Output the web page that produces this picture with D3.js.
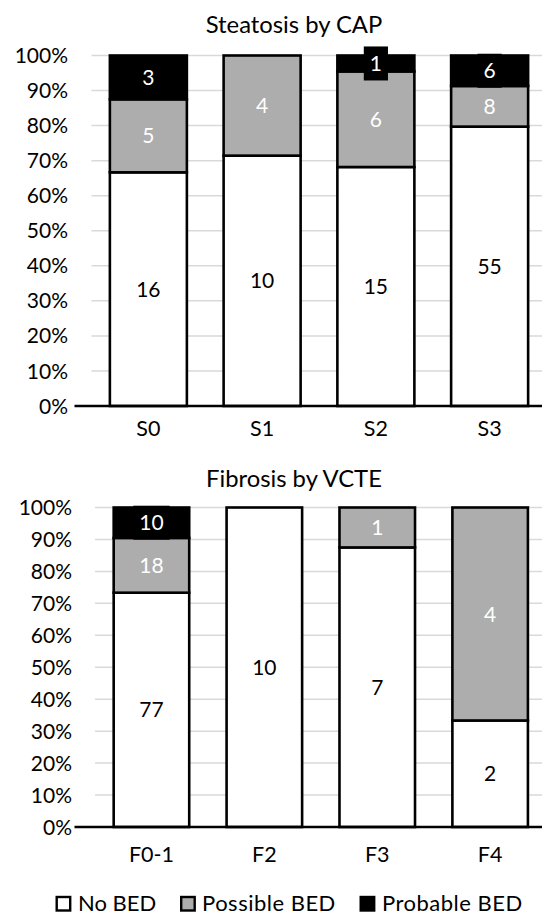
<!DOCTYPE html>
<html>
<head>
<meta charset="utf-8">
<script src="https://cdn.jsdelivr.net/npm/d3@7"></script>
<style>
  html, body { margin: 0; padding: 0; background: #fff; }
  svg { display: block; font-family: Lato, "Open Sans", sans-serif; }
</style>
</head>
<body>
<svg id="chart" width="542" height="915"></svg>
<script>
// Counts of patients per binge-eating category
const seriesNames = ["No BED", "Possible BED", "Probable BED"];

const steatosisCategories = ["S0", "S1", "S2", "S3"];
const steatosisNoBed = [16, 10, 15, 55];
const steatosisPossibleBed = [5, 4, 6, 8];
const steatosisProbableBed = [3, 0, 1, 6];

const fibrosisCategories = ["F0-1", "F2", "F3", "F4"];
const fibrosisNoBed = [77, 10, 7, 2];
const fibrosisPossibleBed = [18, 0, 1, 4];
const fibrosisProbableBed = [10, 0, 0, 0];

const percentTicks = [0, 10, 20, 30, 40, 50, 60, 70, 80, 90, 100];
const percentTickLabels = ["0%", "10%", "20%", "30%", "40%", "50%", "60%", "70%", "80%", "90%", "100%"];

const fills = ["#ffffff", "#adadad", "#000000"];
const labelColors = ["#000000", "#ffffff", "#ffffff"];

const svg = d3.select("#chart");

function drawPanel(opts) {
  const { title, categories, series, left, right, top, bottom, titleY, tickRight, catY, barFrac } = opts;

  const g = svg.append("g");

  // rows: one per category, with counts per series
  const rows = categories.map((c, i) => {
    const row = { category: c };
    seriesNames.forEach((s, k) => { row[s] = series[k][i]; });
    row.total = d3.sum(series, arr => arr[i]);
    return row;
  });

  const stack = d3.stack()
    .keys(seriesNames)
    .value((d, key) => d[key] / d.total * 100);
  const layers = stack(rows);

  const x = d3.scaleBand()
    .domain(categories)
    .range([left, right])
    .paddingInner(1 - barFrac)
    .paddingOuter((1 - barFrac) / 2);

  const y = d3.scaleLinear().domain([0, 100]).range([bottom, top]);

  // title
  g.append("text")
    .attr("x", 294)
    .attr("y", titleY)
    .attr("text-anchor", "middle")
    .attr("font-size", 23.8)
    .attr("fill", "#000")
    .text(title);

  // horizontal gridlines
  g.append("g")
    .selectAll("line")
    .data(percentTicks.filter(t => t > 0))
    .join("line")
    .attr("x1", left)
    .attr("x2", 542)
    .attr("y1", d => y(d))
    .attr("y2", d => y(d))
    .attr("stroke", "#d9d9d9")
    .attr("stroke-width", 1.5);

  // y tick labels
  g.append("g")
    .selectAll("text")
    .data(percentTicks)
    .join("text")
    .attr("x", tickRight)
    .attr("y", d => y(d))
    .attr("dy", "0.36em")
    .attr("text-anchor", "end")
    .attr("font-size", 21)
    .attr("fill", "#000")
    .text((d, i) => percentTickLabels[i]);

  // stacked bars
  layers.forEach((layer, k) => {
    g.append("g")
      .selectAll("rect")
      .data(layer.filter(d => d[1] - d[0] > 0))
      .join("rect")
      .attr("x", d => x(d.data.category))
      .attr("width", x.bandwidth())
      .attr("y", d => y(d[1]))
      .attr("height", d => y(d[0]) - y(d[1]))
      .attr("fill", fills[k])
      .attr("stroke", "#000")
      .attr("stroke-width", 2.6);
  });

  // baseline axis
  g.append("line")
    .attr("x1", 74.5)
    .attr("x2", 542)
    .attr("y1", y(0))
    .attr("y2", y(0))
    .attr("stroke", "#000")
    .attr("stroke-width", 2.6);

  // category labels
  g.append("g")
    .selectAll("text")
    .data(categories)
    .join("text")
    .attr("x", d => x(d) + x.bandwidth() / 2)
    .attr("y", catY)
    .attr("text-anchor", "middle")
    .attr("font-size", 21.5)
    .attr("fill", "#000")
    .text(d => d);

  // data labels (counts), centred in each segment
  layers.forEach((layer, k) => {
    const lg = g.append("g");
    layer.forEach(d => {
      const count = d.data[seriesNames[k]];
      if (!count) return;
      const cx = x(d.data.category) + x.bandwidth() / 2;
      const cy = y((d[0] + d[1]) / 2);
      const bg = lg.append("rect");
      const t = lg.append("text")
        .attr("x", cx)
        .attr("y", cy)
        .attr("dy", "0.36em")
        .attr("text-anchor", "middle")
        .attr("font-size", 21)
        .attr("fill", labelColors[k])
        .text(count);
      if (k === 2) {
        const bb = t.node().getBBox();
        bg.attr("x", cx - bb.width / 2 - 6)
          .attr("y", cy - 17)
          .attr("width", bb.width + 12)
          .attr("height", 34)
          .attr("fill", fills[k]);
      } else {
        bg.remove();
      }
    });
  });
}

drawPanel({
  title: "Steatosis by CAP",
  categories: steatosisCategories,
  series: [steatosisNoBed, steatosisPossibleBed, steatosisProbableBed],
  left: 91.5, right: 546.5, top: 55.5, bottom: 406,
  titleY: 33, tickRight: 68, catY: 436, barFrac: 0.677
});

drawPanel({
  title: "Fibrosis by VCTE",
  categories: fibrosisCategories,
  series: [fibrosisNoBed, fibrosisPossibleBed, fibrosisProbableBed],
  left: 95, right: 546.6, top: 507.5, bottom: 827,
  titleY: 487, tickRight: 72, catY: 862, barFrac: 0.669
});

// legend
const legendX = [55.5, 180, 359.5];
const legendTextX = [78, 202, 382];
const legend = svg.append("g");
seriesNames.forEach((name, k) => {
  legend.append("rect")
    .attr("x", legendX[k] + 1.2)
    .attr("y", 897)
    .attr("width", 13.5)
    .attr("height", 13.5)
    .attr("fill", fills[k])
    .attr("stroke", "#000")
    .attr("stroke-width", 2.4);
  legend.append("text")
    .attr("x", legendTextX[k])
    .attr("y", 910.5)
    .attr("font-size", 22)
    .attr("letter-spacing", k === 0 ? 0 : 0.5)
    .attr("fill", "#000")
    .text(name);
});
</script>
</body>
</html>
